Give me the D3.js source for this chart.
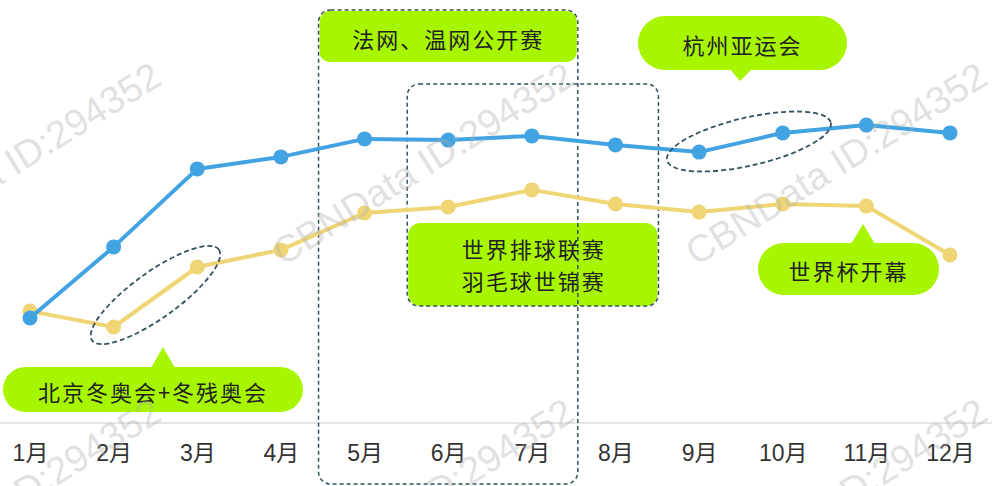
<!DOCTYPE html>
<html>
<head>
<meta charset="utf-8">
<script src="https://cdn.jsdelivr.net/npm/d3@7"></script>
<style>
  html, body { margin: 0; padding: 0; background: #fff; }
  svg { display: block; }
  .tick text { font-family: "Liberation Sans", Arial, "Noto Sans CJK SC", sans-serif; }
  .label { font-family: "Noto Sans CJK SC", sans-serif; fill: #222; }
</style>
</head>
<body>
<div id="chart"></div>
<script>
// Chart values (index, no y axis shown)
const months = ["1月", "2月", "3月", "4月", "5月", "6月", "7月", "8月", "9月", "10月", "11月", "12月"];
const blueSeries = [35, 58.7, 84.7, 88.7, 94.7, 94.3, 95.7, 92.7, 90.3, 96.7, 99.3, 96.7];
const yellowSeries = [37.3, 32, 52, 57.7, 70, 72, 77.7, 73, 70.3, 73, 72.3, 56];

const width = 999, height = 486;
const baseY = 423;

let svg = d3.select("#chart").append("svg")
    .attr("width", width)
    .attr("height", height);

let x = d3.scalePoint().domain(months).range([30, 950]);
let y = d3.scaleLinear().domain([0, 100]).range([baseY, 123]);

// baseline
svg.append("line")
    .attr("x1", 0).attr("x2", 992)
    .attr("y1", baseY).attr("y2", baseY)
    .attr("stroke", "#dcdcdc")
    .attr("stroke-width", 1.5);

// x axis labels
let axis = svg.append("g")
    .attr("transform", "translate(0," + baseY + ")")
    .call(d3.axisBottom(x).tickSize(0).tickPadding(22));
axis.select(".domain").remove();
axis.selectAll("text")
    .attr("font-size", 23)
    .attr("fill", "#333");

const green = "#a8f500";
const dashColor = "#35525e";

// green header blocks inside the dashed boxes
svg.append("rect")
    .attr("x", x("5月") - 45).attr("y", 11)
    .attr("width", x("7月") - x("5月") + 90).attr("height", 51)
    .attr("rx", 10)
    .attr("fill", green);
svg.append("text").attr("class", "label")
    .attr("x", (x("5月") + x("7月")) / 2).attr("y", 38)
    .attr("text-anchor", "middle").attr("dominant-baseline", "central")
    .attr("font-size", 22).attr("letter-spacing", 2)
    .text("法网、温网公开赛");

svg.append("rect")
    .attr("x", x("6月") - 40).attr("y", 223)
    .attr("width", x("8月") - x("6月") + 82).attr("height", 83)
    .attr("rx", 12)
    .attr("fill", green);
let tx = svg.append("text").attr("class", "label")
    .attr("text-anchor", "middle")
    .attr("font-size", 22).attr("letter-spacing", 2);
tx.append("tspan").attr("x", x("7月") + 2).attr("y", 258).text("世界排球联赛");
tx.append("tspan").attr("x", x("7月") + 2).attr("y", 290).text("羽毛球世锦赛");

// dashed boxes
svg.append("rect")
    .attr("x", x("5月") - 46).attr("y", 10)
    .attr("width", x("7月") - x("5月") + 92).attr("height", 474)
    .attr("rx", 12)
    .attr("fill", "none")
    .attr("stroke", dashColor).attr("stroke-width", 1.5)
    .attr("stroke-dasharray", "4,3");
svg.append("rect")
    .attr("x", x("6月") - 41).attr("y", 84)
    .attr("width", x("8月") - x("6月") + 84).attr("height", 222)
    .attr("rx", 12)
    .attr("fill", "none")
    .attr("stroke", dashColor).attr("stroke-width", 1.5)
    .attr("stroke-dasharray", "4,3");

// series lines
function drawSeries(values, color) {
    let line = d3.line()
        .x((d, i) => x(months[i]))
        .y(d => y(d));
    svg.append("path")
        .datum(values)
        .attr("d", line)
        .attr("fill", "none")
        .attr("stroke", color)
        .attr("stroke-width", 4)
        .attr("stroke-linejoin", "round");
    svg.selectAll(null)
        .data(values)
        .enter()
        .append("circle")
            .attr("cx", (d, i) => x(months[i]))
            .attr("cy", d => y(d))
            .attr("r", 7.5)
            .attr("fill", color);
}
drawSeries(yellowSeries, "#f0d574");
drawSeries(blueSeries, "#41a3e2");

// dashed ellipses around highlighted points
function ringAround(m1, m2, vals, rx, ry, dx, dy) {
    let cx = (x(m1) + x(m2)) / 2 + dx;
    let cy = (y(vals[months.indexOf(m1)]) + y(vals[months.indexOf(m2)])) / 2 + dy;
    let ang = Math.atan2(y(vals[months.indexOf(m2)]) - y(vals[months.indexOf(m1)]), x(m2) - x(m1)) * 180 / Math.PI;
    svg.append("ellipse")
        .attr("cx", 0).attr("cy", 0)
        .attr("rx", rx).attr("ry", ry)
        .attr("transform", "translate(" + cx + "," + cy + ") rotate(" + ang + ")")
        .attr("fill", "none")
        .attr("stroke", dashColor).attr("stroke-width", 1.8)
        .attr("stroke-dasharray", "5,3");
}
ringAround("2月", "3月", yellowSeries, 78, 23, 0, -2);
ringAround("9月", "10月", blueSeries, 84, 24, 8, -1);

// callout pills with pointers
function pill(x0, y0, w, h, tip, baseL, baseR, baseY, label) {
    let g = svg.append("g");
    g.append("path")
        .attr("d", "M" + baseL + "," + baseY + "L" + tip[0] + "," + tip[1] + "L" + baseR + "," + baseY + "Z")
        .attr("fill", green);
    g.append("rect")
        .attr("x", x0).attr("y", y0)
        .attr("width", w).attr("height", h)
        .attr("rx", h / 2)
        .attr("fill", green);
    g.append("text").attr("class", "label")
        .attr("x", x0 + w / 2).attr("y", y0 + h / 2 + 1)
        .attr("text-anchor", "middle").attr("dominant-baseline", "central")
        .attr("font-size", 22).attr("letter-spacing", 2)
        .text(label);
}
pill(3, 367, 300, 45, [163, 347], 151, 175, 368, "北京冬奥会+冬残奥会");
pill(638, 16, 209, 54, [740, 81], 730, 752, 69, "杭州亚运会");
pill(758, 243, 181, 52, [863, 224], 851, 875, 244, "世界杯开幕");

// watermark tiles
let wm = svg.append("g").attr("pointer-events", "none");
for (let j = 0; j < 2; j++) {
    for (let i = 0; i < 3; i++) {
        wm.append("text")
            .attr("transform", "translate(" + (164 + 413 * i) + "," + (83 + 336 * j) + ") rotate(-32)")
            .attr("text-anchor", "end")
            .attr("font-family", "Liberation Sans, Arial, sans-serif")
            .attr("font-size", 38)
            .attr("fill", "#b0b0b0")
            .attr("fill-opacity", 0.4)
            .text("CBNData ID:294352");
    }
}
</script>
</body>
</html>
